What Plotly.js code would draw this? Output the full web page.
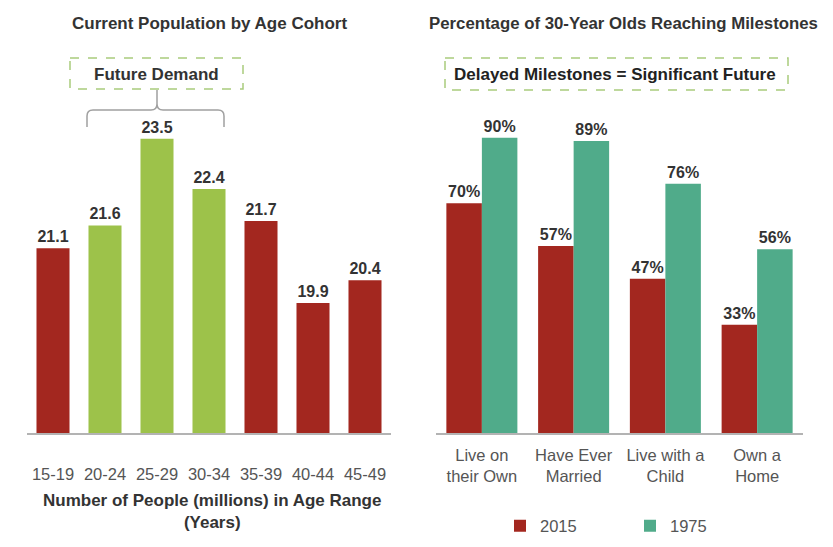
<!DOCTYPE html>
<html>
<head>
<meta charset="utf-8">
<script src="https://cdn.plot.ly/plotly-3.0.1.min.js"></script>
<style>html,body{margin:0;padding:0;background:#fff;}#chart{width:833px;height:547px;}</style>
</head>
<body>
<div id="chart"></div>
<script>
// ---- data ----
const ageGroups = ['15-19', '20-24', '25-29', '30-34', '35-39', '40-44', '45-49'];
const population = [21.1, 21.6, 23.5, 22.4, 21.7, 19.9, 20.4];
const futureDemandGroups = ['20-24', '25-29', '30-34'];

const milestones = ['Live on<br>their Own', 'Have Ever<br>Married', 'Live with a<br>Child', 'Own a<br>Home'];
const pct2015 = [70, 57, 47, 33];
const pct1975 = [90, 89, 76, 56];
const seriesNames = ['2015', '1975'];

// ---- styling / layout helpers ----
const W = 833, H = 547;
const px = x => x / W;
const py = y => 1 - y / H;
const RED = '#A3271F', LGREEN = '#9DC24A', TEAL = '#50AB8A';
const FONT = 'Liberation Sans, Arial, Helvetica, sans-serif';
const DARK = '#333333', GREY = '#555555';

const leftColors = ageGroups.map(g => futureDemandGroups.includes(g) ? LGREEN : RED);

const traces = [
  {
    type: 'bar', x: ageGroups, y: population, xaxis: 'x', yaxis: 'y',
    marker: {color: leftColors}, width: 0.635,
    text: population.map(v => v.toFixed(1)), textposition: 'outside', cliponaxis: false,
    textfont: {family: FONT, size: 16, color: DARK, weight: 'bold'},
    showlegend: false, hoverinfo: 'skip'
  },
  {
    type: 'bar', name: seriesNames[0], x: milestones, y: pct2015, xaxis: 'x2', yaxis: 'y2',
    marker: {color: RED}, width: 0.387, offset: -0.387,
    text: pct2015.map(v => v + '%'), textposition: 'outside', cliponaxis: false,
    textfont: {family: FONT, size: 16, color: DARK, weight: 'bold'}, hoverinfo: 'skip'
  },
  {
    type: 'bar', name: seriesNames[1], x: milestones, y: pct1975, xaxis: 'x2', yaxis: 'y2',
    marker: {color: TEAL}, width: 0.387, offset: 0,
    text: pct1975.map(v => v + '%'), textposition: 'outside', cliponaxis: false,
    textfont: {family: FONT, size: 16, color: DARK, weight: 'bold'}, hoverinfo: 'skip'
  }
];

const yDom = [py(433), py(100)];
const xAxisCommon = {
  type: 'category', showgrid: false, zeroline: false, showline: true,
  linecolor: '#B3B3B3', linewidth: 2, ticks: 'outside', tickcolor: 'rgba(0,0,0,0)',
  tickfont: {family: FONT, size: 16.5, color: GREY}, fixedrange: true
};

const layout = {
  width: W, height: H, autosize: false,
  margin: {l: 0, r: 0, t: 0, b: 0},
  paper_bgcolor: '#fff', plot_bgcolor: '#fff',
  font: {family: FONT, color: DARK},
  barmode: 'group',
  xaxis: Object.assign({}, xAxisCommon, {domain: [px(27), px(391)], anchor: 'y', ticklen: 25}),
  yaxis: {domain: yDom, range: [17.05, 24.35], visible: false, anchor: 'x', fixedrange: true},
  xaxis2: Object.assign({}, xAxisCommon, {domain: [px(436), px(803)], anchor: 'y2', ticklen: 6}),
  yaxis2: {domain: yDom, range: [0, 101.5], visible: false, anchor: 'x2', fixedrange: true},
  showlegend: true,
  legend: {
    orientation: 'h', x: px(500), y: py(526), xanchor: 'left', yanchor: 'middle',
    entrywidth: 85, entrywidthmode: 'pixels',
    font: {family: FONT, size: 16.5, color: GREY}, bgcolor: 'rgba(0,0,0,0)'
  },
  annotations: [
    {text: 'Current Population by Age Cohort', x: px(209), y: py(24), xref: 'paper', yref: 'paper',
     showarrow: false, xanchor: 'center', yanchor: 'middle',
     font: {family: FONT, size: 17, color: DARK, weight: 'bold'}},
    {text: 'Percentage of 30-Year Olds Reaching Milestones', x: px(623), y: py(24), xref: 'paper', yref: 'paper',
     showarrow: false, xanchor: 'center', yanchor: 'middle',
     font: {family: FONT, size: 16.8, color: DARK, weight: 'bold'}},
    {text: 'Future Demand', x: px(156), y: py(74), xref: 'paper', yref: 'paper',
     showarrow: false, xanchor: 'center', yanchor: 'middle',
     font: {family: FONT, size: 17, color: DARK, weight: 'bold'}},
    {text: 'Delayed Milestones = Significant Future', x: px(615), y: py(74), xref: 'paper', yref: 'paper',
     showarrow: false, xanchor: 'center', yanchor: 'middle',
     font: {family: FONT, size: 17, color: '#222', weight: 'bold'}},
    {text: 'Number of People (millions) in Age Range<br>(Years)', x: px(212), y: py(511), xref: 'paper', yref: 'paper',
     showarrow: false, xanchor: 'center', yanchor: 'middle',
     font: {family: FONT, size: 17, color: DARK, weight: 'bold'}}
  ],
  shapes: [
    {type: 'rect', xref: 'paper', yref: 'paper', x0: px(70), x1: px(243), y0: py(58), y1: py(89),
     line: {color: '#A9CB7C', width: 1.5, dash: 'dash'}},
    {type: 'rect', xref: 'paper', yref: 'paper', x0: px(445), x1: px(788), y0: py(58), y1: py(90),
     line: {color: '#A9CB7C', width: 1.5, dash: 'dash'}},
    {type: 'path', xref: 'paper', yref: 'paper',
     path: 'M' + px(87) + ',' + py(127) + ' L' + px(87) + ',' + py(116) +
           ' Q' + px(87) + ',' + py(110) + ' ' + px(93) + ',' + py(110) +
           ' L' + px(151) + ',' + py(110) +
           ' Q' + px(157) + ',' + py(110) + ' ' + px(157) + ',' + py(104) +
           ' L' + px(157) + ',' + py(90) +
           ' M' + px(157) + ',' + py(104) +
           ' Q' + px(157) + ',' + py(110) + ' ' + px(163) + ',' + py(110) +
           ' L' + px(218) + ',' + py(110) +
           ' Q' + px(224) + ',' + py(110) + ' ' + px(224) + ',' + py(116) +
           ' L' + px(224) + ',' + py(127),
     line: {color: '#A0A0A0', width: 1.5}}
  ]
};

Plotly.newPlot('chart', traces, layout, {staticPlot: true, displayModeBar: false});
</script>
</body>
</html>
